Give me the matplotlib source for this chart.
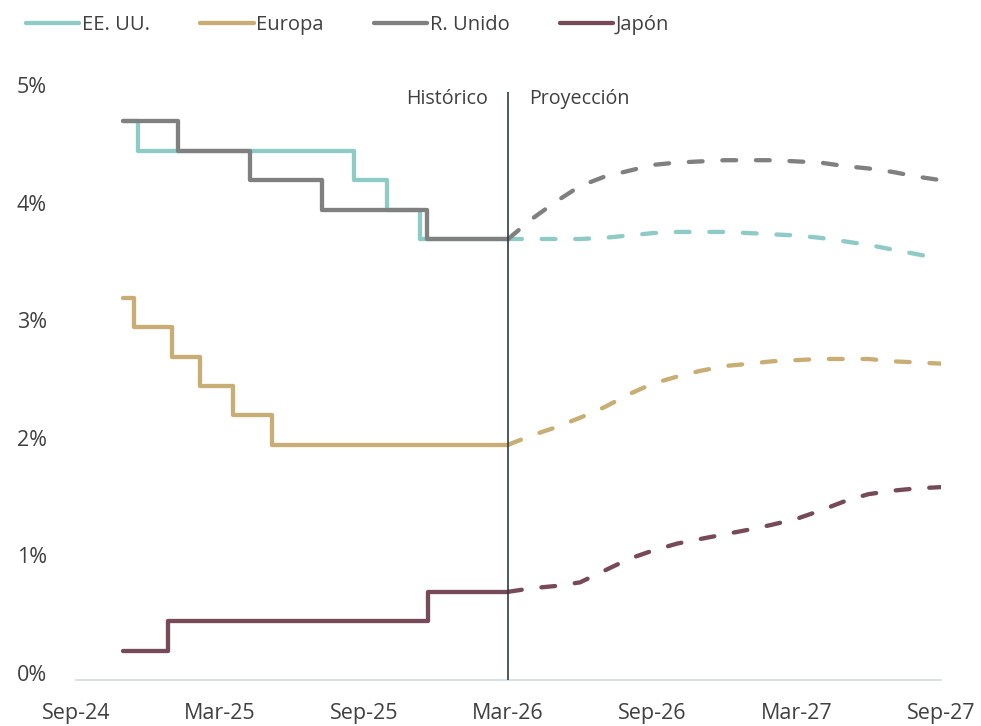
import matplotlib
matplotlib.use("Agg")
import matplotlib.pyplot as plt
from matplotlib.transforms import ScaledTranslation
import pandas as pd

plt.rcParams['font.family'] = ['Open Sans', 'DejaVu Sans']

# tipos oficiales: fechas de cambio y nivel (historico, escalones)
us_dates = ['2024-11-28', '2024-12-18', '2025-09-17', '2025-10-29', '2025-12-10', '2026-03-31']
us_rates = [4.75, 4.50, 4.25, 4.00, 3.75, 3.75]
eu_dates = ['2024-11-28', '2024-12-12', '2025-01-30', '2025-03-06', '2025-04-17', '2025-06-05', '2026-03-31']
eu_rates = [3.25, 3.00, 2.75, 2.50, 2.25, 2.00, 2.00]
uk_dates = ['2024-11-28', '2025-02-06', '2025-05-08', '2025-08-07', '2025-12-18', '2026-03-31']
uk_rates = [4.75, 4.50, 4.25, 4.00, 3.75, 3.75]
jp_dates = ['2024-11-28', '2025-01-24', '2025-12-19', '2026-03-31']
jp_rates = [0.25, 0.50, 0.75, 0.75]

# proyeccion mensual mar-26 .. sep-27
proj_dates = pd.date_range('2026-03-31', '2027-09-30', freq='ME')
us_proj = [3.75, 3.75, 3.75, 3.75, 3.76, 3.78, 3.80, 3.81, 3.81, 3.81,
           3.80, 3.79, 3.78, 3.76, 3.73, 3.70, 3.66, 3.62, 3.58]
eu_proj = [2.00, 2.08, 2.15, 2.23, 2.32, 2.43, 2.52, 2.58, 2.63, 2.67,
           2.69, 2.71, 2.72, 2.73, 2.73, 2.73, 2.71, 2.70, 2.69]
uk_proj = [3.75, 3.92, 4.07, 4.20, 4.28, 4.33, 4.38, 4.40, 4.41, 4.42,
           4.42, 4.42, 4.41, 4.40, 4.37, 4.35, 4.32, 4.28, 4.25]
jp_proj = [0.75, 0.78, 0.80, 0.83, 0.93, 1.03, 1.10, 1.16, 1.20, 1.24,
           1.28, 1.32, 1.37, 1.44, 1.52, 1.58, 1.61, 1.63, 1.64]

series = [
    ('EE. UU.', us_dates, us_rates, us_proj, '#8ECBC6'),
    ('Europa', eu_dates, eu_rates, eu_proj, '#C8AE74'),
    ('R. Unido', uk_dates, uk_rates, uk_proj, '#808080'),
    ('Japón', jp_dates, jp_rates, jp_proj, '#774A57'),
]

fig = plt.figure(figsize=(9.81, 7.26), dpi=100)
ax = fig.add_axes([76/981, 46/726, 865/981, 588/726])

for name, d, r, p, c in series:
    ax.plot(pd.to_datetime(d), r, drawstyle='steps-post', color=c, lw=3.1,
            solid_capstyle='round', solid_joinstyle='round', label=name)
    ax.plot(proj_dates, p, color=c, lw=3.1, dashes=(3.2, 4.6),
            dash_capstyle='round')

split = pd.Timestamp('2026-03-31')
ax.axvline(split, color='#2F3B40', lw=1.2, zorder=5)
ax.text(split - pd.Timedelta(days=26), 4.94, 'Histórico', ha='right', va='center',
        fontsize=14.2, color='#404040')
ax.text(split + pd.Timedelta(days=26), 4.94, 'Proyección', ha='left', va='center',
        fontsize=14.2, color='#404040')

ax.set_xlim(pd.Timestamp('2024-09-30'), pd.Timestamp('2027-09-30'))
ax.set_ylim(0, 5)
xt = pd.to_datetime(['2024-09-30', '2025-03-31', '2025-09-30', '2026-03-31',
                     '2026-09-30', '2027-03-31', '2027-09-30'])
ax.set_xticks(xt)
ax.set_xticklabels(['Sep-24', 'Mar-25', 'Sep-25', 'Mar-26', 'Sep-26', 'Mar-27', 'Sep-27'])
ax.set_yticks([0, 1, 2, 3, 4, 5])
ax.set_yticklabels(['0%', '1%', '2%', '3%', '4%', '5%'])
ax.tick_params(axis='both', length=0, labelsize=15.5, labelcolor='#404040')
ax.tick_params(axis='x', pad=16.5)
ax.tick_params(axis='y', pad=21)
for lab in ax.get_yticklabels():
    lab.set_transform(lab.get_transform() + ScaledTranslation(0, 0.07, fig.dpi_scale_trans))

for s in ['top', 'right', 'left']:
    ax.spines[s].set_visible(False)
ax.spines['bottom'].set_color('#D6DCE2')
ax.spines['bottom'].set_linewidth(1.3)

fig.legend(loc='center left', bbox_to_anchor=(18/981, 1 - 25/726), ncol=4,
           frameon=False, fontsize=14.5, handlelength=2.65, handletextpad=0.12,
           columnspacing=2.5, borderaxespad=0, labelcolor='#404040')

fig.savefig('out.png', dpi=100)
